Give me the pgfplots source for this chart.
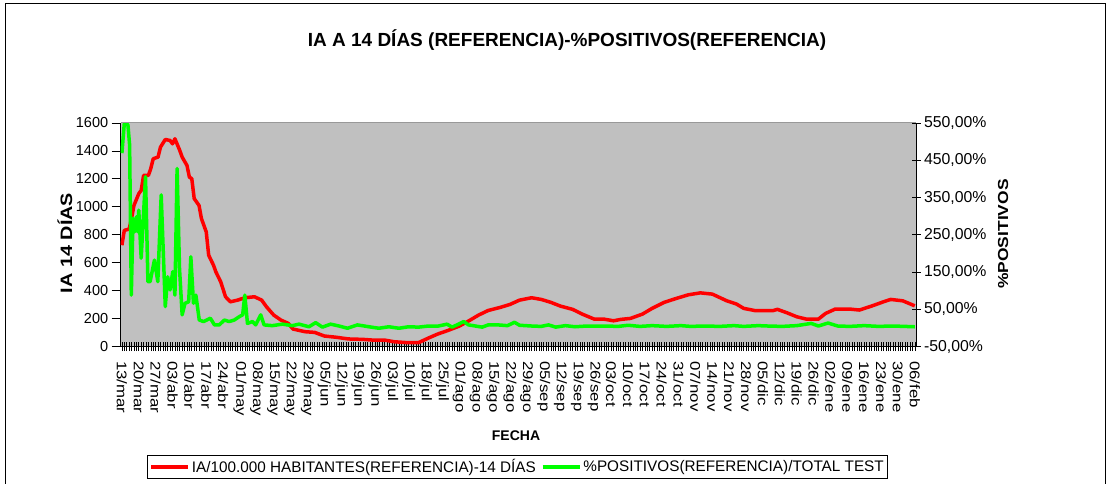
\documentclass[border=0pt]{standalone}
\usepackage{fontspec}
\setmainfont{Liberation Sans}
\newfontfamily\widesans[FakeStretch=1.2]{Liberation Sans}
\usepackage{pgfplots}
\usepackage{pgfplotstable}
\pgfplotsset{compat=1.18}
\definecolor{plotgray}{HTML}{C0C0C0}
\definecolor{iared}{HTML}{FF0000}
\definecolor{posgreen}{HTML}{00FF00}
\definecolor{framegray}{HTML}{999999}

% IA/100.000 hab. a 14 dias (eje izquierdo), dia 0 = 13/mar
\pgfplotstableread{
d v
0 725
1 832
3 840
4 916
5 1010
7 1094
8 1118
9 1225
11 1225
12 1275
13 1344
15 1356
16 1427
18 1482
20 1475
21 1451
22 1487
24 1404
25 1356
27 1296
28 1213
29 1201
30 1059
32 1010
33 916
35 820
36 654
38 582
39 534
41 463
43 356
45 320
48 332
51 349
55 356
58 332
60 284
63 225
66 189
69 166
71 125
76 106
80 101
84 75
89 66
94 54
100 51
104 46
109 46
113 34
119 27
123 27
127 59
131 89
135 113
140 146
144 184
148 225
152 258
157 280
161 301
165 332
170 349
174 337
178 316
182 289
187 266
191 232
196 196
200 196
204 184
207 194
211 201
216 232
220 273
225 316
230 344
235 370
240 384
245 375
251 327
255 304
258 273
263 256
270 256
272 266
276 241
280 213
284 196
289 196
292 237
296 268
302 268
306 261
311 289
316 320
319 337
324 327
329 291
}\iadata

% % positivos / total test (eje derecho)
\pgfplotstableread{
d p
0 469
1 549
2.5 545
3.2 491
3.9 88
4.6 294
5.3 258
6 298
6.6 258
7 316
8 187
9.8 406
10.8 124
11.7 124
13.5 182
14.9 124
16.3 357
18 57
19 137
20 102
21.1 151
22 88
22.9 428
23.9 160
25 35
26.2 66
27.7 70
28.6 191
29.7 66
30.7 88
32.1 21
33.9 17
35.2 21
36.7 26
38.4 8
40.4 8
42.5 21
44.5 17
46.6 21
48.7 30
50.1 35
51 88
52.1 12
54.2 17
55.5 8
57.6 35
59 8
62.4 6
66.6 10
70.7 6
73.5 10
77.6 3
80.4 14
83.2 2
86.6 10
90.1 5
93.6 -1
97.7 8
102.5 3
106.6 -1
110.8 3
114.9 -1
119 3
123.1 2
127.3 5
131.4 5
134.9 10
137 2
139.7 10
141.8 17
143.8 8
149.5 2
152 8
156 8
160 6
162.9 15
165 7
170 5
174 4
177 8
180 2
184 6
188 3
193 5
200 5
206 4
210 7
215 4
220 6
226 4
232 6
236 4
242 5
248 4
254 6
258 4
264 6
268 5
274 4
280 6
286 12
289 5
293 13
297 5
302 4
308 6
314 4
320 5
329 3
}\posdata

\begin{document}
\begin{tikzpicture}
\useasboundingbox (0pt,0pt) rectangle (1111pt,-484pt);
\fill[white] (0pt,0pt) rectangle (1111pt,-484pt);
\draw[black,line width=0.8pt] (5pt,-3pt) rectangle (1105pt,-520pt);
\node[font=\fontsize{19}{22}\selectfont\bfseries] at (567pt,-40pt)
  {IA A 14 DÍAS (REFERENCIA)-\%POSITIVOS(REFERENCIA)};

\begin{axis}[
  at={(120.7pt,-346.5pt)}, anchor=south west,
  scale only axis, width=795.3pt, height=223.5pt,
  xmin=-0.5, xmax=329.5, ymin=0, ymax=1600,
  axis background/.style={fill=plotgray},
  axis y line*=left, axis x line*=bottom,
  axis line style={black,line width=1pt,-},
  xtick={0,7,...,329},
  minor x tick num=6,
  xticklabels={13/mar,20/mar,27/mar,03/abr,10/abr,17/abr,24/abr,01/may,08/may,15/may,22/may,29/may,05/jun,12/jun,19/jun,26/jun,03/jul,10/jul,18/jul,25/jul,01/ago,08/ago,15/ago,22/ago,29/ago,05/sep,12/sep,19/sep,26/sep,03/oct,10/oct,17/oct,24/oct,31/oct,07/nov,14/nov,21/nov,28/nov,05/dic,12/dic,19/dic,26/dic,02/ene,09/ene,16/ene,23/ene,30/ene,06/feb},
  x tick label style={rotate=-90, anchor=west, font=\widesans\fontsize{14}{16}\selectfont, inner sep=1pt},
  xticklabel shift=9pt,
  xtick align=center,
  major x tick style={black,line width=0.6pt},
  minor x tick style={black,line width=0.6pt},
  major tick length=9pt, minor tick length=9pt,
  ytick={0,200,...,1600},
  ytick align=outside,
  y tick label style={font=\fontsize{14.5}{16}\selectfont},
  ytick style={black,line width=0.8pt},
  /pgf/number format/assume math mode=true,
  /pgf/number format/set thousands separator={},
  legend columns=2,
  legend style={at={(0.033,-0.4855)}, anchor=north west, draw=black, line width=0.8pt,
    font=\fontsize{15.3}{17}\selectfont, inner xsep=2pt, inner ysep=2pt,
    /tikz/every even column/.append style={column sep=3pt}},
  legend image code/.code={\draw[#1] (0pt,0pt) -- (37pt,0pt);},
]
\addplot[iared, line width=3.5pt, line join=round] table[x=d,y=v] {\iadata};
\addlegendentry{IA/100.000 HABITANTES(REFERENCIA)-14 DÍAS}
\addlegendimage{posgreen, line width=3.5pt}
\addlegendentry{\%POSITIVOS(REFERENCIA)/TOTAL TEST}
\end{axis}

\begin{axis}[
  at={(120.7pt,-346.5pt)}, anchor=south west,
  scale only axis, width=795.3pt, height=223.5pt,
  xmin=-0.5, xmax=329.5, ymin=-50, ymax=550,
  axis y line*=right, axis x line=none,
  axis line style={black,line width=1pt,-},
  xtick=\empty,
  ytick={-50,50,...,550},
  yticklabels={{-50,00\%},{50,00\%},{150,00\%},{250,00\%},{350,00\%},{450,00\%},{550,00\%}},
  ytick align=center, major tick length=9pt,
  ytick style={black,line width=0.8pt},
  y tick label style={font=\fontsize{15.8}{17}\selectfont},
]
\addplot[posgreen, line width=3.5pt, line join=round] table[x=d,y=p] {\posdata};
\end{axis}

\draw[framegray,line width=1pt] (120.7pt,-123pt) -- (916pt,-123pt);
\node[rotate=90, font=\widesans\fontsize{16.5}{18}\selectfont\bfseries] at (65pt,-243pt) {IA 14 DÍAS};
\node[rotate=90, font=\widesans\fontsize{14.5}{17}\selectfont\bfseries] at (1003pt,-234pt) {\%POSITIVOS};
\node[font=\fontsize{14}{16}\selectfont\bfseries] at (516pt,-436pt) {FECHA};
\end{tikzpicture}
\end{document}
